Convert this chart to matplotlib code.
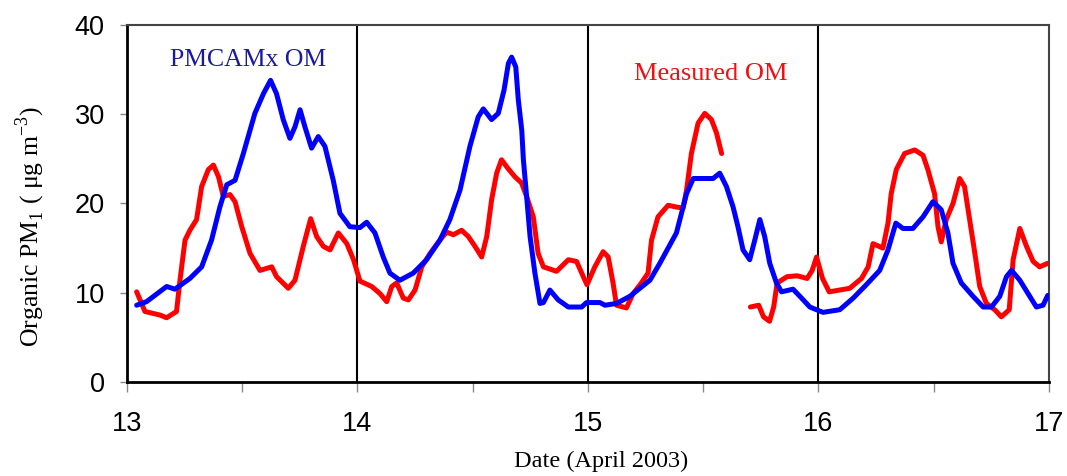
import numpy as np
import matplotlib.pyplot as plt

# PMCAMx predicted OM (day of April 2003, ug/m3)
model_day = [13.042, 13.085, 13.172, 13.208, 13.273, 13.324, 13.367, 13.403, 13.433, 13.469,
             13.505, 13.555, 13.592, 13.623, 13.649, 13.678, 13.707, 13.729, 13.751, 13.772,
             13.801, 13.830, 13.859, 13.895, 13.924, 13.967, 14.011, 14.040, 14.076, 14.112,
             14.141, 14.184, 14.242, 14.300, 14.358, 14.401, 14.445, 14.488, 14.524, 14.546,
             14.582, 14.611, 14.636, 14.655, 14.669, 14.687, 14.698, 14.713, 14.720, 14.734,
             14.749, 14.770, 14.792, 14.807, 14.835, 14.871, 14.915, 14.973, 14.994, 15.052,
             15.074, 15.124, 15.182, 15.269, 15.312, 15.348, 15.384, 15.406, 15.428, 15.457,
             15.543, 15.572, 15.601, 15.630, 15.651, 15.673, 15.702, 15.724, 15.746, 15.767,
             15.789, 15.818, 15.840, 15.890, 15.927, 15.963, 16.020, 16.093, 16.151, 16.208,
             16.266, 16.302, 16.336, 16.367, 16.410, 16.454, 16.497, 16.533, 16.562, 16.584,
             16.620, 16.671, 16.715, 16.751, 16.787, 16.816, 16.838, 16.874, 16.917, 16.946,
             16.975, 16.995]
model_om = [8.6, 9.0, 10.7, 10.4, 11.6, 12.9, 15.9, 19.6, 22.1, 22.6,
            25.6, 30.1, 32.3, 33.8, 32.3, 29.4, 27.3, 28.6, 30.5, 28.6,
            26.2, 27.5, 26.4, 22.6, 18.9, 17.4, 17.3, 17.9, 16.7, 14.0,
            12.2, 11.4, 12.2, 13.7, 15.9, 18.2, 21.5, 26.4, 29.7, 30.6,
            29.4, 30.1, 32.7, 35.7, 36.4, 35.3, 31.6, 28.2, 24.9, 20.8,
            16.3, 12.2, 8.8, 8.9, 10.3, 9.2, 8.4, 8.4, 8.9, 8.9,
            8.6, 8.8, 9.6, 11.4, 13.3, 15.0, 16.7, 18.9, 21.1, 22.8,
            22.8, 23.4, 21.9, 19.6, 17.4, 14.8, 13.7, 15.9, 18.2, 16.3,
            13.3, 11.1, 10.1, 10.4, 9.4, 8.4, 7.8, 8.1, 9.4, 10.9,
            12.5, 14.8, 17.8, 17.2, 17.2, 18.5, 20.2, 19.3, 16.7, 13.3,
            11.1, 9.6, 8.4, 8.4, 9.6, 11.8, 12.5, 11.4, 9.6, 8.4,
            8.6, 9.7]

# Measured OM (NaN marks the data gap)
meas_day = [13.042, 13.078, 13.143, 13.172, 13.215, 13.230, 13.252, 13.273, 13.302, 13.324,
            13.353, 13.375, 13.397, 13.418, 13.447, 13.469, 13.498, 13.534, 13.577, 13.628,
            13.649, 13.700, 13.729, 13.765, 13.797, 13.823, 13.852, 13.881, 13.917, 13.954,
            13.983, 14.011, 14.062, 14.098, 14.127, 14.149, 14.170, 14.199, 14.221, 14.250,
            14.279, 14.315, 14.358, 14.387, 14.416, 14.452, 14.481, 14.510, 14.539, 14.561,
            14.582, 14.604, 14.625, 14.654, 14.683, 14.712, 14.734, 14.763, 14.784, 14.807,
            14.864, 14.915, 14.951, 14.980, 14.996, 15.030, 15.066, 15.088, 15.109, 15.124,
            15.167, 15.196, 15.232, 15.261, 15.276, 15.304, 15.348, 15.384, 15.413, 15.428,
            15.449, 15.478, 15.507, 15.536, 15.558, 15.580, 15.640, 15.705, 15.741, 15.762,
            15.788, 15.806, 15.821, 15.864, 15.908, 15.951, 15.973, 15.992, 16.018, 16.047,
            16.136, 16.187, 16.216, 16.237, 16.280, 16.302, 16.316, 16.338, 16.374, 16.418,
            16.454, 16.475, 16.504, 16.519, 16.533, 16.555, 16.584, 16.613, 16.634, 16.656,
            16.679, 16.700, 16.729, 16.765, 16.794, 16.828, 16.845, 16.874, 16.903, 16.932,
            16.960, 16.995]
meas_om = [10.1, 7.9, 7.5, 7.2, 7.9, 11.4, 15.9, 17.0, 18.2, 21.9,
           23.8, 24.3, 23.0, 20.8, 21.0, 20.2, 17.4, 14.4, 12.5, 12.9,
           11.8, 10.5, 11.4, 15.2, 18.3, 16.3, 15.2, 14.8, 16.7, 15.5,
           13.7, 11.3, 10.7, 9.9, 9.0, 10.7, 11.1, 9.4, 9.2, 10.3,
           12.9, 14.4, 15.9, 16.8, 16.5, 17.0, 16.3, 15.2, 14.0, 16.3,
           20.4, 23.4, 24.9, 23.9, 23.0, 22.3, 20.8, 18.5, 14.4, 12.9,
           12.4, 13.7, 13.5, 11.8, 10.9, 12.9, 14.6, 14.0, 11.1, 8.6,
           8.3, 9.9, 11.1, 12.2, 15.9, 18.5, 19.8, 19.6, 19.5, 21.5,
           25.6, 29.0, 30.1, 29.4, 27.9, 25.6, np.nan, 8.4, 8.6, 7.3,
           6.8, 8.4, 11.1, 11.8, 11.9, 11.6, 12.5, 14.0, 11.6, 10.1,
           10.5, 11.6, 12.9, 15.5, 15.0, 17.8, 21.1, 23.8, 25.6, 26.0,
           25.4, 23.8, 21.1, 17.4, 15.7, 18.2, 20.0, 22.8, 21.9, 18.2,
           14.4, 10.7, 8.8, 8.1, 7.3, 8.1, 13.7, 17.2, 15.2, 13.5,
           12.9, 13.3]

day_lines = [14, 15, 16]
x_ticks = [13, 13.5, 14, 14.5, 15, 15.5, 16, 16.5, 17]
x_labels = ['13', '', '14', '', '15', '', '16', '', '17']
y_ticks = [0, 10, 20, 30, 40]

fig = plt.figure(figsize=(10.67, 4.76), dpi=100)
ax = fig.add_axes([0.119, 0.1975, 0.864, 0.75])

# Vertical day separators
for d in day_lines:
    ax.axvline(d, color='black', lw=1.5, zorder=1)

ax.plot(meas_day, meas_om, color='#ff0000', lw=3.6, solid_capstyle='round', zorder=2)
ax.plot(model_day, model_om, color='#0000ff', lw=3.6, solid_capstyle='round', zorder=3)

ax.set_xlim(13, 17)
ax.set_ylim(0, 40)
ax.set_xticks(x_ticks)
ax.set_xticklabels(x_labels)
ax.set_yticks(y_ticks)

ax.tick_params(axis='x', direction='out', length=7, width=1, color='#888888',
               labelsize=19.5, pad=14)
ax.tick_params(axis='y', direction='out', length=5, width=1, color='#888888',
               labelsize=19.5, pad=11)
for lbl in ax.get_xticklabels() + ax.get_yticklabels():
    lbl.set_family('Liberation Sans')

for side in ['left', 'bottom']:
    ax.spines[side].set_linewidth(2)
    ax.spines[side].set_color('black')
for side in ['top', 'right']:
    ax.spines[side].set_linewidth(1.5)
    ax.spines[side].set_color('#444444')

ax.set_xlabel('Date (April 2003)', family='Liberation Serif', fontsize=17.5)
ax.xaxis.set_label_coords(0.514, -0.193)
ax.set_ylabel(r'Organic PM$_\mathregular{1}$ ( $\mathregular{\mu}$g m$^\mathregular{-3}$)',
              family='Liberation Serif', fontsize=18.5)
ax.yaxis.set_label_coords(-0.105, 0.434)
ax.yaxis.label.set_va('center')

ax.text(13.525, 36.1, 'PMCAMx OM', color='#1a1a9c', family='Liberation Serif',
        fontsize=18.5, ha='center', va='center')
ax.text(15.534, 34.5, 'Measured OM', color='#ee1111', family='Liberation Serif',
        fontsize=19, ha='center', va='center')

fig.savefig('out.png', dpi=100)
